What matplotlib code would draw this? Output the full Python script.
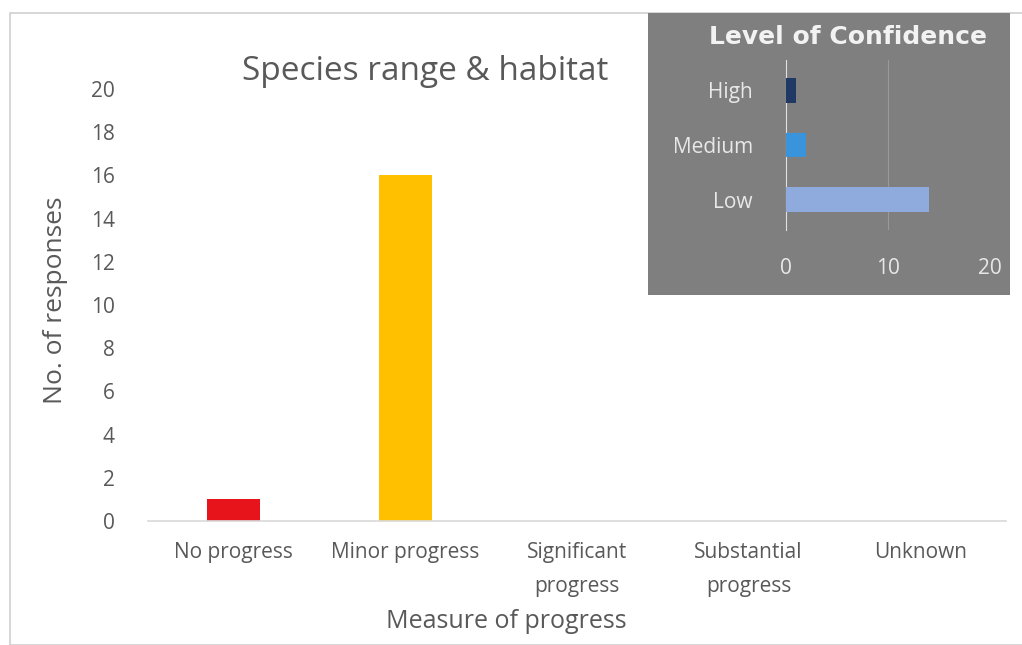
import matplotlib.pyplot as plt
from matplotlib.patches import Rectangle

# data
categories = ["No progress", "Minor progress", "Significant\nprogress",
              "Substantial\nprogress", "Unknown"]
responses = [1, 16, 0, 0, 0]
bar_colors = ["#e8141b", "#ffc000", "#70ad47", "#5b9bd5", "#a5a5a5"]

conf_levels = ["Low", "Medium", "High"]
conf_values = [14, 2, 1]
conf_colors = ["#8faadc", "#3a94dc", "#1f3864"]

plt.rcParams['font.family'] = ['Open Sans', 'DejaVu Sans']
txt = "#595959"

W, H = 1022, 645
fig = plt.figure(figsize=(W / 100, H / 100), dpi=100)

# outer chart frame
fig.patches.append(Rectangle((10 / W, 0), 1.2, 1 - 13 / H, transform=fig.transFigure,
                             fill=False, edgecolor="#d0d0d0", lw=1.2))

# main axes
ax = fig.add_axes([148 / W, 1 - 521 / H, (1006 - 148) / W, (521 - 89) / H])
ax.bar(range(len(categories)), responses, width=0.31, color=bar_colors)
ax.set_xlim(-0.5, len(categories) - 0.5)
ax.set_ylim(0, 20)
ax.set_yticks(range(0, 21, 2))
ax.set_xticks(range(len(categories)))
ax.set_xticklabels(categories, fontsize=15, color=txt, va="top", linespacing=1.8)
ax.tick_params(axis="y", labelsize=15, colors=txt, length=0, pad=24)
ax.tick_params(axis="x", length=0, pad=15)
for s in ["top", "right", "left"]:
    ax.spines[s].set_visible(False)
ax.spines["bottom"].set_color("#d9d9d9")
ax.spines["bottom"].set_linewidth(1.2)
fig.text(56 / W, 1 - 300 / H, "No. of responses", fontsize=19, color=txt,
         rotation=90, ha="center", va="center")
fig.text(506 / W, 1 - 622 / H, "Measure of progress", fontsize=18, color=txt,
         ha="center", va="center")
fig.text(425 / W, 1 - 71 / H, "Species range & habitat", fontsize=24, color=txt,
         ha="center", va="center")

# inset panel
fig.patches.append(Rectangle((648 / W, 1 - 295 / H), (1010 - 648) / W, (295 - 13) / H,
                             transform=fig.transFigure, facecolor="#7f7f7f",
                             edgecolor="none", zorder=5))
fig.text(848 / W, 1 - 37 / H, "Level of Confidence", fontsize=18, color="#f2f2f2",
         ha="center", va="center", fontweight="bold", family="DejaVu Sans", zorder=6)
ins = fig.add_axes([786 / W, 1 - 230 / H, (990 - 786) / W, (230 - 60) / H], zorder=6)
ins.set_facecolor("none")
ins.barh(range(len(conf_levels)), conf_values, height=0.45, color=conf_colors, zorder=3)
ins.set_xlim(0, 20)
ins.set_ylim(-0.55, 2.55)
ins.set_xticks([0, 10, 20])
ins.set_yticks(range(len(conf_levels)))
ins.set_yticklabels(conf_levels)
ins.grid(axis="x", color="#999999", lw=0.8, zorder=0)
ins.tick_params(colors="#e8e8e8", labelsize=15, length=0)
ins.tick_params(axis="x", pad=20)
ins.tick_params(axis="y", pad=24)
for s in ["top", "right", "bottom"]:
    ins.spines[s].set_visible(False)
ins.spines["left"].set_color("#e0e0e0")

fig.savefig("out.png", dpi=100)
